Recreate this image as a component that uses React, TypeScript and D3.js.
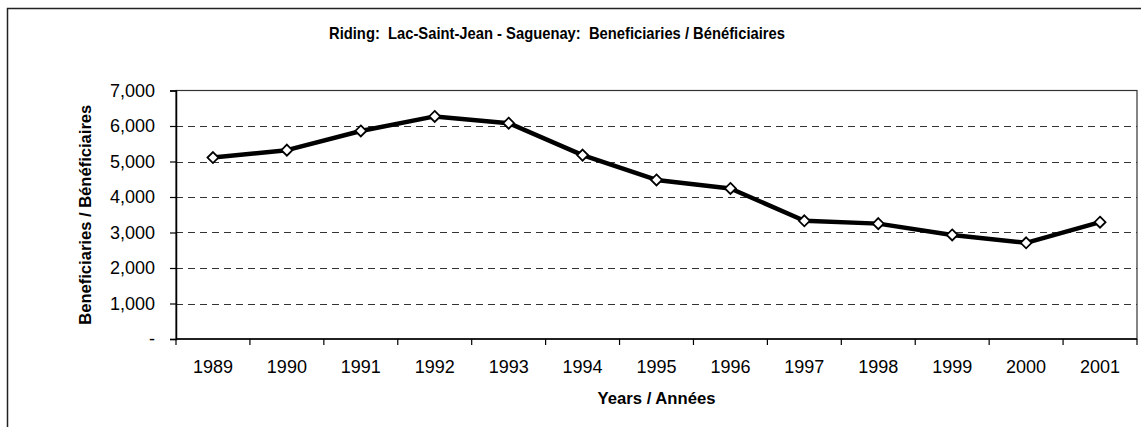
import React, { useEffect, useRef } from "react";
import * as d3 from "d3";

const years = ["1989", "1990", "1991", "1992", "1993", "1994", "1995", "1996", "1997", "1998", "1999", "2000", "2001"];
const beneficiaries = [5110, 5320, 5860, 6270, 6080, 5180, 4480, 4240, 3330, 3250, 2930, 2710, 3290];
const yTicks = [0, 1000, 2000, 3000, 4000, 5000, 6000, 7000];

const W = 1141, H = 427;
const margin = { top: 90.5, right: 4, bottom: 88, left: 176 };
const bold = "'Liberation Sans', Arial, sans-serif";
const regular = "'Liberation Sans', Arial, sans-serif";

export default function App() {
  const ref = useRef<SVGSVGElement>(null);

  useEffect(() => {
    const svg = d3.select(ref.current);
    svg.selectAll("*").remove();

    const x0 = margin.left, x1 = W - margin.right;
    const y0 = H - margin.bottom, y1 = margin.top;

    const x = d3.scaleBand().domain(years).range([x0, x1]);
    const y = d3.scaleLinear().domain([0, 7000]).range([y0, y1]);

    // outer chart border (runs off the page right/bottom)
    svg.append("rect")
      .attr("x", 7.5).attr("y", 8.5)
      .attr("width", W + 20).attr("height", H + 20)
      .attr("fill", "#fff").attr("stroke", "#222").attr("stroke-width", 1.5);

    // title, squeezed to look like a narrow bold face
    svg.append("text")
      .attr("x", 557).attr("y", 38.5)
      .attr("text-anchor", "middle")
      .attr("textLength", 456).attr("lengthAdjust", "spacingAndGlyphs")
      .style("white-space", "pre")
      .style("font-family", bold).style("font-weight", "bold").style("font-size", "17px")
      .text("Riding:  Lac-Saint-Jean - Saguenay:  Beneficiaries / Bénéficiaires");

    // dashed gridlines
    svg.append("g").selectAll("line")
      .data(yTicks.filter(d => d > 0 && d < 7000))
      .join("line")
      .attr("x1", x0).attr("x2", x1)
      .attr("y1", d => Math.round(y(d)) + 0.5).attr("y2", d => Math.round(y(d)) + 0.5)
      .attr("stroke", "#333").attr("stroke-width", 1)
      .attr("stroke-dasharray", "7,5");

    // plot area frame
    svg.append("rect")
      .attr("x", x0).attr("y", y1).attr("width", x1 - x0).attr("height", y0 - y1)
      .attr("fill", "none").attr("stroke", "#333").attr("stroke-width", 1.2);

    // y axis
    const yAxis = d3.axisLeft(y).tickValues(yTicks).tickSize(6).tickPadding(15)
      .tickFormat(d => (+d === 0 ? "-" : d3.format(",")(+d)));
    const gy = svg.append("g").attr("transform", `translate(${x0},0)`).call(yAxis);
    gy.select(".domain").attr("stroke", "#000").attr("stroke-width", 1.5);
    gy.selectAll(".tick line").attr("stroke", "#000").attr("stroke-width", 1.2);
    gy.selectAll(".tick text")
      .style("font-family", regular).style("font-size", "18px").attr("fill", "#000");

    // x axis: ticks on band edges
    const gx = svg.append("g").attr("transform", `translate(0,${y0})`);
    gx.append("line").attr("x1", x0).attr("x2", x1).attr("y1", 0).attr("y2", 0)
      .attr("stroke", "#000").attr("stroke-width", 1.5);
    gx.selectAll("line.tk")
      .data(years.concat(["end"]))
      .join("line").attr("class", "tk")
      .attr("x1", (d, i) => x0 + i * x.bandwidth())
      .attr("x2", (d, i) => x0 + i * x.bandwidth())
      .attr("y1", 0).attr("y2", 6)
      .attr("stroke", "#000").attr("stroke-width", 1.2);
    gx.selectAll("text")
      .data(years)
      .join("text")
      .attr("x", d => (x(d) as number) + x.bandwidth() / 2)
      .attr("y", 34)
      .attr("text-anchor", "middle")
      .style("font-family", regular).style("font-size", "18px")
      .text(d => d);

    // axis titles
    svg.append("text")
      .attr("x", (x0 + x1) / 2).attr("y", 403.5)
      .attr("text-anchor", "middle")
      .attr("textLength", 118).attr("lengthAdjust", "spacingAndGlyphs")
      .style("font-family", bold).style("font-weight", "bold").style("font-size", "17px")
      .text("Years / Années");

    svg.append("text")
      .attr("transform", `translate(91,${(y0 + y1) / 2}) rotate(-90)`)
      .attr("text-anchor", "middle")
      .attr("textLength", 220).attr("lengthAdjust", "spacingAndGlyphs")
      .style("font-family", bold).style("font-weight", "bold").style("font-size", "17px")
      .text("Beneficiaries / Bénéficiaires");

    // series line
    const line = d3.line<number>()
      .x((d, i) => (x(years[i]) as number) + x.bandwidth() / 2)
      .y(d => y(d));
    svg.append("path")
      .datum(beneficiaries)
      .attr("fill", "none")
      .attr("stroke", "#000")
      .attr("stroke-width", 4.5)
      .attr("stroke-linejoin", "round")
      .attr("d", line);

    // diamond markers
    svg.append("g").selectAll("path")
      .data(beneficiaries)
      .join("path")
      .attr("transform", (d, i) => `translate(${(x(years[i]) as number) + x.bandwidth() / 2},${y(d)})`)
      .attr("d", "M0,-5.5L5.5,0L0,5.5L-5.5,0Z")
      .attr("fill", "#fff").attr("stroke", "#000").attr("stroke-width", 1.8);
  }, []);

  return (
    <svg ref={ref} width={W} height={H}
      style={{ position: "absolute", left: 0, top: 0, background: "#fff" }} />
  );
}
